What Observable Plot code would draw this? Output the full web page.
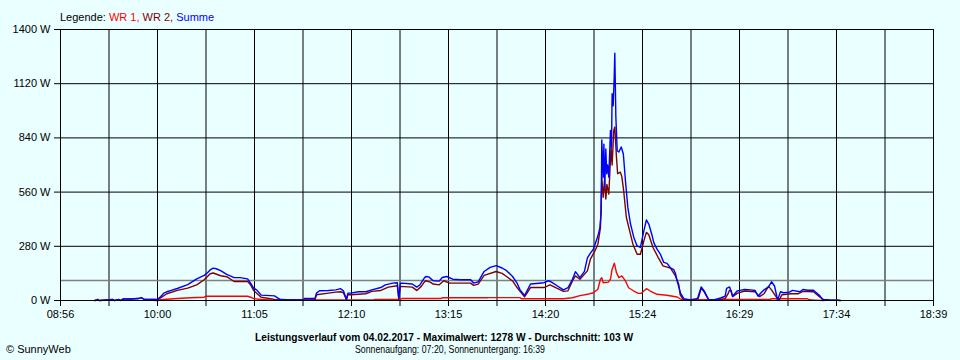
<!DOCTYPE html>
<html><head><meta charset="utf-8">
<script src="https://cdn.jsdelivr.net/npm/d3@7"></script>
<script src="https://cdn.jsdelivr.net/npm/@observablehq/plot@0.6"></script>
<style>html,body{margin:0;padding:0;background:#eaffff;} svg{display:block}</style>
</head><body><div id="chart"></div>
<script>
// Axis ticks and labels
const xTickLabels = ["08:56","10:00","11:05","12:10","13:15","14:20","15:24","16:29","17:34","18:39"];
const xRangeMinutes = [536, 1119.2];
const yTicks = [0, 280, 560, 840, 1120, 1400];
const average = 103;

const legendItems = [["Legende: ", "#000000"], ["WR 1, ", "#ff0000"], ["WR 2, ", "#800000"], ["Summe", "#0000ff"]];
const titleText = "Leistungsverlauf vom 04.02.2017 - Maximalwert: 1278 W - Durchschnitt: 103 W";
const subtitleText = "Sonnenaufgang: 07:20, Sonnenuntergang: 16:39";
const creditText = "\u00A9 SunnyWeb";

// WR 1 (red)
const wr1 = [["09:59",0],["10:01",0],["10:03",4],["10:14",10],["10:23",14],["10:32",17],["10:33",22],["11:01",22],["11:03",17],["11:05",10],["11:10",5],["11:15",3],["12:25",3],["12:26",6],["12:43",6],["12:44",10],["13:10",10],["13:11",14],["13:41",14],["13:42",15],["14:03",15],["14:04",9],["14:32",9],["14:38",14],["14:43",25],["14:48",32],["14:52",40],["14:55",58],["14:56:42",110],["14:57:36",118],["14:58:30",92],["15:02",95],["15:03:24",110],["15:04:30",162],["15:06:00",193],["15:07:24",144],["15:09",118],["15:11",127],["15:13:24",101],["15:15:30",66],["15:19",49],["15:22",37],["15:24",37],["15:27:24",61],["15:30",49],["15:34:30",32],["15:41",27],["15:48",18],["15:51",4],["15:53",2],["16:00",4],["16:16",4],["16:18",6],["16:50",6],["16:51",9],["17:15",9],["17:16",4],["17:20",2],["17:26",0]];

// WR 2 (dark red)
const wr2 = [["09:19",0],["09:21",5],["09:22",0],["09:31",5],["09:32",0],["09:35",5],["09:36",0],["09:38",8],["09:43",8],["09:48",10],["09:50",15],["09:52",5],["09:59",5],["10:01",4],["10:03",15],["10:07",35],["10:14",52],["10:21",64],["10:27",81],["10:32",107],["10:36",138],["10:38",142],["10:43",128],["10:47",123],["10:52",98],["11:01",98],["11:03",81],["11:05",52],["11:10",17],["11:19",6],["11:21",4],["11:25",3],["11:46",3],["11:47",30],["11:55",38],["12:00",43],["12:03",45],["12:05",40],["12:07",4],["12:08",30],["12:10",30],["12:20",35],["12:24",47],["12:30",52],["12:35",69],["12:41",76],["12:42",5],["12:43",73],["12:51",69],["12:54",52],["12:57",73],["12:59",95],["13:00",102],["13:03",95],["13:05",85],["13:09",81],["13:12",102],["13:16",90],["13:20",90],["13:30",90],["13:32",78],["13:35",85],["13:39",130],["13:47",150],["13:51",140],["13:54",124],["13:58",101],["14:01",67],["14:06",19],["14:10",67],["14:19",67],["14:23",81],["14:32",47],["14:35",50],["14:38",101],["14:40",127],["14:43",110],["14:48",153],["14:50",214],["14:53",256],["14:55",291],["14:56:42",375],["14:57:36",637],["14:58:30",533],["14:59:24",619],["15:00:18",524],["15:01:00",600],["15:02:18",550],["15:03:48",793],["15:04:30",700],["15:05:36",879],["15:06:18",896],["15:07:24",741],["15:08:12",655],["15:10:00",663],["15:11:00",640],["15:12:12",568],["15:14:00",430],["15:16:12",360],["15:18:24",291],["15:21:12",239],["15:23:24",239],["15:25:42",308],["15:27:24",352],["15:29:00",340],["15:31:48",274],["15:35:18",222],["15:38:30",179],["15:43:30",167],["15:46:48",127],["15:49",84],["15:50",29],["15:52",5],["15:56",3],["16:02",10],["16:04",63],["16:06",45],["16:09",3],["16:15",3],["16:20",10],["16:22",35],["16:22:48",52],["16:24",52],["16:25",20],["16:28",37],["16:33",49],["16:40",45],["16:43",20],["16:46",35],["16:49",73],["16:51",55],["16:54",20],["16:56",2],["16:58",30],["17:04",35],["17:09",35],["17:12",47],["17:19",45],["17:23",20],["17:26",3],["17:35",1],["17:37",0]];

// Summe (blue)
const summe = [["09:19",0],["09:21",5],["09:22",0],["09:31",5],["09:32",0],["09:35",5],["09:36",0],["09:38",8],["09:43",8],["09:48",10],["09:50",15],["09:52",5],["09:59",5],["10:01",6],["10:03",21],["10:05",38],["10:07",45],["10:10",52],["10:14",62],["10:21",82],["10:27",112],["10:32",130],["10:34",142],["10:36",158],["10:38",167],["10:40",164],["10:43",154],["10:47",135],["10:52",118],["10:56",118],["11:01",112],["11:03",90],["11:05",64],["11:07",55],["11:10",28],["11:19",24],["11:21",14],["11:23",5],["11:32",3],["11:38",3],["11:39",10],["11:46",10],["11:47",38],["11:49",50],["11:55",52],["12:00",55],["12:03",61],["12:05",50],["12:07",6],["12:08",38],["12:10",38],["12:15",45],["12:20",45],["12:24",55],["12:30",67],["12:33",81],["12:38",90],["12:41",92],["12:42",12],["12:43",88],["12:44",90],["12:51",85],["12:54",69],["12:56",80],["12:59",116],["13:00",124],["13:02",122],["13:05",102],["13:09",100],["13:11",119],["13:14",124],["13:18",110],["13:23",107],["13:30",107],["13:32",90],["13:35",96],["13:39",150],["13:43",171],["13:47",180],["13:51",168],["13:54",154],["13:58",124],["14:01",90],["14:03",55],["14:06",26],["14:08",55],["14:10",85],["14:14",88],["14:19",92],["14:22",102],["14:24",95],["14:28",75],["14:32",55],["14:35",66],["14:38",110],["14:40",149],["14:43",118],["14:46",150],["14:48",220],["14:50",245],["14:52",265],["14:55",333],["14:56:18",375],["14:57:12",453],["14:57:36",830],["14:58:30",637],["14:59:00",808],["14:59:36",585],["15:00:18",783],["15:00:54",655],["15:01:30",700],["15:02:18",637],["15:03:24",879],["15:04:06",793],["15:04:30",1068],["15:05:12",1006],["15:05:54",1155],["15:06:18",1278],["15:07:00",948],["15:07:54",774],["15:09:00",767],["15:10:36",793],["15:12:00",757],["15:13:24",619],["15:15:00",481],["15:16:48",395],["15:19:00",326],["15:21:12",282],["15:23:24",274],["15:25:42",360],["15:27:24",416],["15:29:00",395],["15:31:18",333],["15:32:24",298],["15:34:36",264],["15:36:48",238],["15:39:00",197],["15:41:12",192],["15:43:30",168],["15:45:42",159],["15:46:48",140],["15:48:00",99],["15:50:12",38],["15:52:24",10],["15:56",4],["16:01",4],["16:02",21],["16:04",70],["16:06",50],["16:09",4],["16:13",4],["16:17",13],["16:20",22],["16:21",63],["16:23",70],["16:25",22],["16:28",49],["16:30",52],["16:33",57],["16:37",55],["16:40",52],["16:42",22],["16:44",40],["16:46",55],["16:49",70],["16:51",97],["16:53",75],["16:54",40],["16:55",2],["16:57",45],["16:59",40],["17:03",43],["17:05",52],["17:10",45],["17:12",57],["17:15",53],["17:19",53],["17:21",40],["17:23",27],["17:25",6],["17:30",3],["17:35",2],["17:37",0]];

function toMin(s) {
  const p = s.split(":").map(Number);
  return p[0] * 60 + p[1] + (p[2] || 0) / 60;
}
const rows = arr => arr.map(([t, v]) => ({t: toMin(t), v}));

const [x0, x1] = xRangeMinutes;
const step = (x1 - x0) / ((xTickLabels.length - 1) * 2);
const xTicks = d3.range((xTickLabels.length - 1) * 2 + 1).map(i => x0 + i * step);
const xFmt = d => {
  const i = Math.round((d - x0) / step);
  return i % 2 === 0 ? xTickLabels[i / 2] : "";
};

const font = "'Liberation Sans', Arial, sans-serif";

const chart = Plot.plot({
  width: 960,
  height: 360,
  marginLeft: 60,
  marginRight: 27,
  marginTop: 29,
  marginBottom: 60,
  style: {background: "#eaffff", fontSize: "11px", fontFamily: font, color: "black", overflow: "visible"},
  x: {domain: xRangeMinutes, ticks: xTicks, tickFormat: xFmt, tickSize: 6, tickPadding: 4, label: null},
  y: {domain: [0, 1400], ticks: yTicks, tickFormat: d => d + " W", tickSize: 6, tickPadding: 4, label: null},
  marks: [
    Plot.ruleX(xTicks, {stroke: "black", strokeWidth: 1}),
    Plot.ruleY(yTicks, {stroke: "black", strokeWidth: 1}),
    Plot.ruleY([average], {stroke: "#808080", strokeWidth: 1.5}),
    Plot.line(rows(wr1), {x: "t", y: "v", stroke: "#ff0000", strokeWidth: 1.4}),
    Plot.line(rows(wr2), {x: "t", y: "v", stroke: "#800000", strokeWidth: 1.4}),
    Plot.line(rows(summe), {x: "t", y: "v", stroke: "#0000ff", strokeWidth: 1.4}),
    Plot.frame({stroke: "black"})
  ]
});

document.getElementById("chart").appendChild(chart);

const svg = d3.select(chart);
const leg = svg.append("text").attr("x", 60).attr("y", 21).attr("text-anchor", "start")
  .style("font-family", font).style("font-size", "11px");
legendItems.forEach(([label, color]) => {
  leg.append("tspan").attr("fill", color).style("white-space", "pre").text(label);
});

svg.append("text").attr("x", 255).attr("y", 341).attr("text-anchor", "start")
  .attr("textLength", 378).attr("lengthAdjust", "spacingAndGlyphs")
  .style("font-family", font).style("font-size", "11.5px").style("font-weight", "bold")
  .attr("fill", "black").text(titleText);

svg.append("text").attr("x", 355).attr("y", 353).attr("text-anchor", "start")
  .attr("textLength", 190).attr("lengthAdjust", "spacingAndGlyphs")
  .style("font-family", font).style("font-size", "10.5px")
  .attr("fill", "black").text(subtitleText);

svg.append("text").attr("x", 6).attr("y", 353).attr("text-anchor", "start")
  .style("font-family", font).style("font-size", "11px")
  .attr("fill", "black").text(creditText);
</script>
</body></html>
